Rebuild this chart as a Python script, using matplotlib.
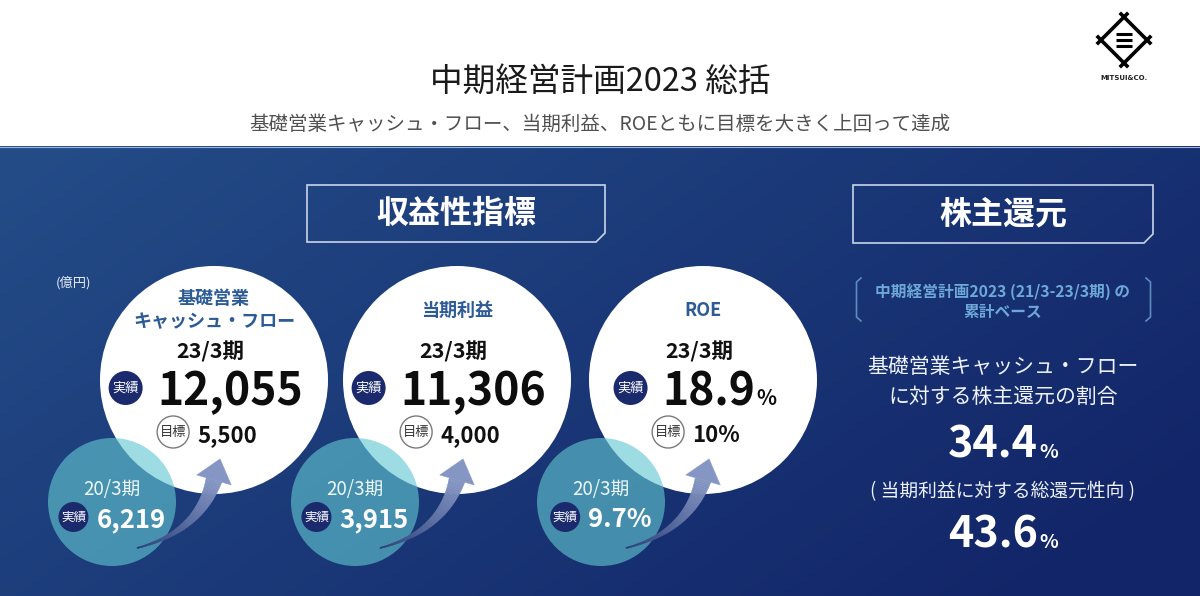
import numpy as np
import matplotlib
matplotlib.use('Agg')
import matplotlib.pyplot as plt
from matplotlib.patches import Circle, Polygon

plt.rcParams['font.family'] = ['Noto Sans CJK JP', 'DejaVu Sans']

# ---------------- data ----------------
title = '中期経営計画2023 総括'
subtitle = '基礎営業キャッシュ・フロー、当期利益、ROEともに目標を大きく上回って達成'
section_left = '収益性指標'
section_right = '株主還元'
unit_label = '(億円)'
metrics = ['基礎営業\nキャッシュ・フロー', '当期利益', 'ROE']
metric_units = ['', '', '%']
period_now = '23/3期'
period_prev = '20/3期'
actual_now = [12055, 11306, 18.9]
target = [5500, 4000, 10]
actual_prev = [6219, 3915, 9.7]
badge_actual = '実績'
badge_target = '目標'
return_note = ['中期経営計画2023 (21/3-23/3期) の', '累計ベース']
return_label_1 = ['基礎営業キャッシュ・フロー', 'に対する株主還元の割合']
return_label_2 = '( 当期利益に対する総還元性向 )'
return_values = [34.4, 43.6]
logo_text = 'MITSUI&CO.'

W, H = 1200, 596
fig = plt.figure(figsize=(12, 5.96), dpi=100)
ax = fig.add_axes([0, 0, 1, 1])
fig.patch.set_facecolor('white')

# ---------------- background ----------------
PANEL_TOP = 146
xs = np.linspace(0, 1, 300)
ys = np.linspace(0, 1, 120)
X, Y = np.meshgrid(xs, ys)
t = np.clip(0.72 * X + 0.38 * Y, 0, 1)
c0 = np.array([36, 77, 136]) / 255
c1 = np.array([18, 37, 104]) / 255
img = c0 + (c1 - c0) * t[..., None]
ax.imshow(img, extent=[0, W, H, PANEL_TOP], aspect='auto', zorder=0,
          interpolation='bilinear')
ax.plot([0, W], [PANEL_TOP + 0.5, PANEL_TOP + 0.5], color='#9fb4d2', lw=0.8, zorder=1)
ax.set_xlim(0, W)
ax.set_ylim(H, 0)
ax.axis('off')

fig.canvas.draw()
R = fig.canvas.get_renderer()


def width(tx):
    return tx.get_window_extent(renderer=R).width


# ---------------- header ----------------
ax.text(600, 82, title, ha='center', va='center', fontsize=23.5, color='#1a1a1a')
ax.text(600, 124, subtitle, ha='center', va='center', fontsize=14, color='#505050')

# logo
lc = np.array([1124.0, 40.0])
verts = [lc + v for v in [(0, -23), (23, 0), (0, 23), (-23, 0)]]
for k in range(4):
    A, B = verts[k], verts[(k + 1) % 4]
    d = (B - A) / np.linalg.norm(B - A)
    P, Q = A - 6 * d, B + 6 * d
    ax.plot([P[0], Q[0]], [P[1], Q[1]], color='black', lw=2.6, solid_capstyle='butt', zorder=3)
for dy in (-6, 0, 6):
    ax.plot([lc[0] - 8, lc[0] + 8], [lc[1] + dy, lc[1] + dy], color='black', lw=2.2,
            solid_capstyle='butt', zorder=3)
ax.text(lc[0], 78, logo_text, ha='center', va='center', fontsize=5, fontweight='bold',
        color='#222222', family=['DejaVu Sans'])


# ---------------- section boxes ----------------
def chamfer_box(x0, y0, x1, y1, label, c=9):
    poly = Polygon([(x0, y0), (x1, y0), (x1, y1 - c), (x1 - c, y1), (x0, y1)], closed=True,
                   fill=False, edgecolor='#c8d4ea', lw=1.2, zorder=3)
    ax.add_patch(poly)
    ax.text((x0 + x1) / 2, (y0 + y1) / 2 + 1, label, ha='center', va='center', fontsize=23,
            fontweight='bold', color='white', zorder=4)


chamfer_box(307, 185, 605, 242, section_left)
chamfer_box(853, 185, 1153, 243, section_right)

ax.text(56, 283, unit_label, ha='left', va='center', fontsize=9.5, color='#e6ecf5')


# ---------------- helpers ----------------
def fmt(v, unit):
    if unit == '%':
        return f'{v:g}'
    return f'{v:,.0f}'


def badge(x, y, r, label, fs, fc='#1a2a6c', ec=None, tc='white', lw=0):
    ax.add_patch(Circle((x, y), r, facecolor=fc, edgecolor=ec if ec else fc, lw=lw, zorder=6))
    ax.text(x, y + 0.5, label, ha='center', va='center', fontsize=fs, color=tc, zorder=7)


def bez(P0, P1, P2, s):
    s = np.asarray(s)[:, None]
    return (1 - s) ** 2 * P0 + 2 * (1 - s) * s * P1 + s ** 2 * P2


def bez_d(P0, P1, P2, s):
    s = np.asarray(s)[:, None]
    return 2 * (1 - s) * (P1 - P0) + 2 * s * (P2 - P1)


def arrow(cx, cy):
    P0 = np.array([cx - 77, cy + 168.0])
    P1 = np.array([cx - 15, cy + 152.0])
    P2 = np.array([cx + 0, cy + 100.0])
    n = 50
    s = np.linspace(0, 1, n + 1)
    pts = bez(P0, P1, P2, s)
    tan = bez_d(P0, P1, P2, s)
    tan = tan / np.linalg.norm(tan, axis=1)[:, None]
    nor = np.stack([-tan[:, 1], tan[:, 0]], axis=1)
    wid = 0.6 + 7.5 * s ** 1.4
    ca = np.array([36, 58, 116]) / 255
    cb = np.array([134, 150, 196]) / 255
    for k in range(n):
        q = [pts[k] + nor[k] * wid[k], pts[k + 1] + nor[k + 1] * wid[k + 1],
             pts[k + 1] - nor[k + 1] * wid[k + 1], pts[k] - nor[k] * wid[k]]
        col = ca + (cb - ca) * (s[k] ** 0.8)
        ax.add_patch(Polygon(q, closed=True, facecolor=col, edgecolor=col, lw=0.3, zorder=5))
    d = tan[-1]
    nn = nor[-1]
    base = pts[-1]
    head = [base + nn * 18, base + d * 22, base - nn * 18]
    ax.add_patch(Polygon(head, closed=True, facecolor=cb, edgecolor=cb, lw=0.3, zorder=5))


# ---------------- circles ----------------
cxs = [214, 457, 703]
cy = 380
RW = 114
TDX, TDY, RT = -102, 122, 64

for i, cx in enumerate(cxs):
    unit = metric_units[i]
    ax.add_patch(Circle((cx, cy), RW, facecolor='white', edgecolor='none', zorder=2))
    tcx, tcy = cx + TDX, cy + TDY
    ax.add_patch(Circle((tcx, tcy), RT, facecolor=(0.38, 0.78, 0.82), alpha=0.62,
                        edgecolor='none', zorder=3))
    arrow(cx, cy)

    # metric title
    ax.text(cx, cy - 70, metrics[i], ha='center', va='center', fontsize=13,
            fontweight='bold', color='#2c5b96', linespacing=1.3, zorder=7)
    ax.text(cx - 4, cy - 22, period_now, ha='center', va='baseline', fontsize=15.5,
            fontweight='bold', color='#111111', zorder=7)

    # main value group
    base_y = cy + 25
    tn = ax.text(0, base_y, fmt(actual_now[i], unit), ha='left', va='baseline', fontsize=32,
                 fontweight='bold', color='#0d0d0d', zorder=7)
    wn = width(tn)
    tp = None
    wp = 0
    if unit:
        tp = ax.text(0, base_y, unit, ha='left', va='baseline', fontsize=15,
                     fontweight='bold', color='#0d0d0d', zorder=7)
        wp = width(tp) + 1
    gw = 17 + 32 + wn + wp
    left = (cx - 8) - gw / 2
    bx = left + 17
    badge(bx, cy + 8, 17, badge_actual, 9.5)
    tn.set_x(bx + 32)
    if tp is not None:
        tp.set_x(bx + 32 + wn + 1)

    # target group
    tt = ax.text(0, cy + 62, fmt(target[i], '') + unit, ha='left', va='baseline', fontsize=16,
                 fontweight='bold', color='#111111', zorder=7)
    wt = width(tt)
    gw = 16 + 24 + wt
    left = (cx - 7) - gw / 2
    tbx = left + 16
    badge(tbx, cy + 52, 16, badge_target, 9.5, fc='white', ec='#7a7a7a', tc='#333333', lw=1)
    tt.set_x(tbx + 24)

    # previous period (teal circle)
    ax.text(tcx, tcy - 7, period_prev, ha='center', va='baseline', fontsize=13.5,
            color='#eef8fa', zorder=7)
    tv = ax.text(0, tcy + 25, fmt(actual_prev[i], '') if unit == '' else f'{actual_prev[i]:g}%',
                 ha='left', va='baseline', fontsize=18.5, fontweight='bold', color='white', zorder=7)
    wv = width(tv)
    gw = 15 + 23 + wv
    left = tcx - gw / 2
    pbx = left + 15
    badge(pbx, tcy + 15, 15, badge_actual, 9)
    tv.set_x(pbx + 23)

# ---------------- right panel ----------------
RC = 1003
note_col = '#6ea8d8'
ax.text(RC, 292, return_note[0], ha='center', va='center', fontsize=11.3, fontweight='bold',
        color=note_col, zorder=7)
ax.text(RC, 312, return_note[1], ha='center', va='center', fontsize=11.3, fontweight='bold',
        color=note_col, zorder=7)
br_col = '#5d8cc0'
ax.plot([861, 856.5, 856.5, 861], [278, 282, 317, 321], color=br_col, lw=1.2, zorder=6)
ax.plot([1146, 1150.5, 1150.5, 1146], [278, 282, 317, 321], color=br_col, lw=1.2, zorder=6)

ax.text(RC, 367, return_label_1[0], ha='center', va='center', fontsize=15, color='#eef2fa', zorder=7)
ax.text(RC, 397, return_label_1[1], ha='center', va='center', fontsize=15, color='#eef2fa', zorder=7)
ax.text(RC, 492, return_label_2, ha='center', va='center', fontsize=13.5, color='#eef2fa', zorder=7)

for val, by in zip(return_values, [458, 548]):
    tn = ax.text(0, by, f'{val:.1f}', ha='left', va='baseline', fontsize=31, fontweight='bold',
                 color='white', zorder=7)
    tp = ax.text(0, by, '%', ha='left', va='baseline', fontsize=14, fontweight='bold',
                 color='white', zorder=7)
    wn, wp = width(tn), width(tp)
    left = RC - (wn + wp + 2) / 2
    tn.set_x(left)
    tp.set_x(left + wn + 2)

fig.savefig('out.png', dpi=100, facecolor='white')
